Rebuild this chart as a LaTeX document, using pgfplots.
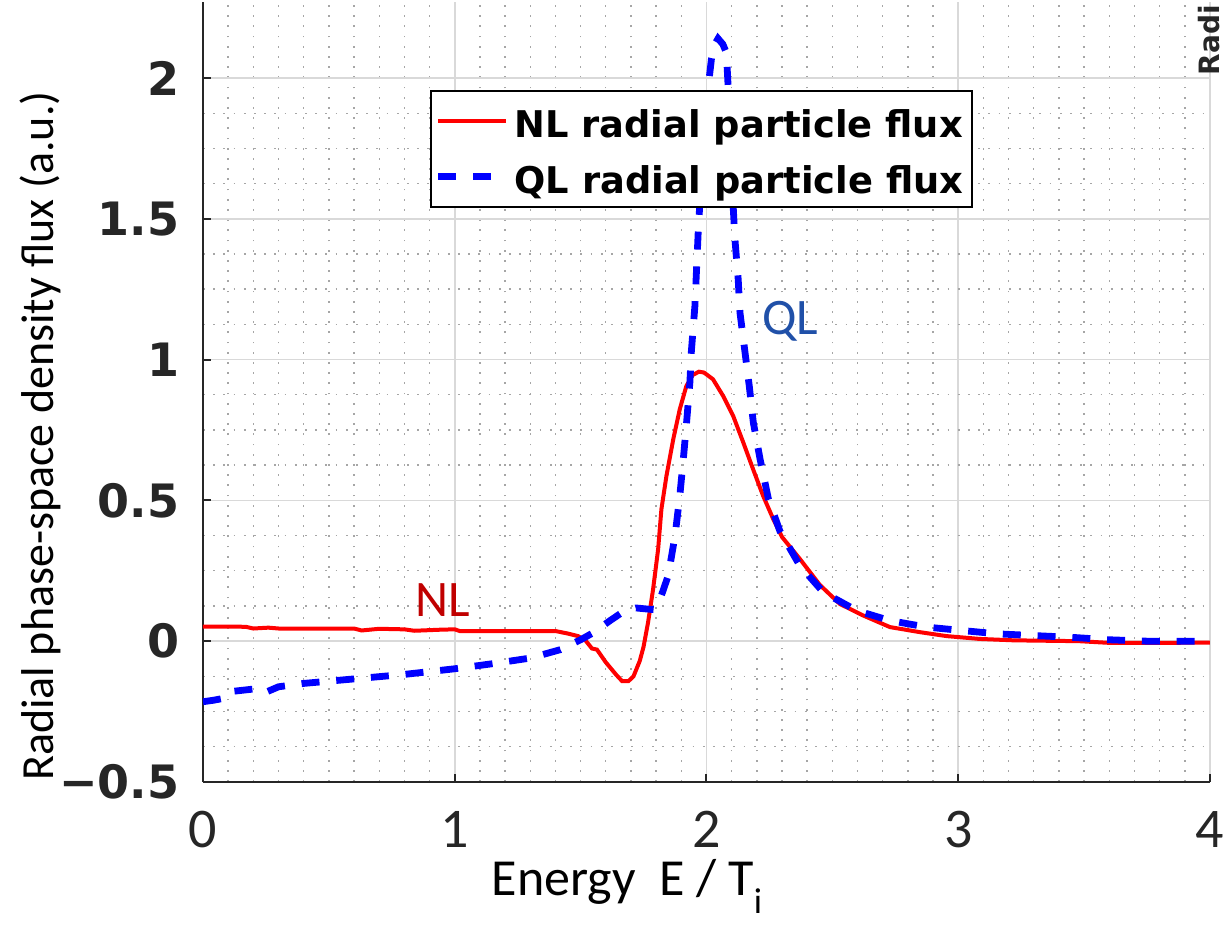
\documentclass[border=0pt]{standalone}
\usepackage{fontspec}
\setmainfont{Carlito}
\newfontfamily\dejavu{DejaVu Sans}
\usepackage{pgfplots}
\pgfplotsset{compat=1.18}
\definecolor{axgray}{HTML}{262626}
\definecolor{nlred}{HTML}{C00000}
\definecolor{qlblue}{HTML}{2050A8}

\pgfplotstableread{
x y
0.00 0.052
0.10 0.052
0.17 0.051
0.20 0.045
0.26 0.048
0.30 0.045
0.60 0.045
0.63 0.038
0.70 0.044
0.80 0.042
0.84 0.037
0.95 0.041
1.00 0.042
1.02 0.036
1.40 0.036
1.45 0.027
1.49 0.018
1.52 0.002
1.545 -0.026
1.565 -0.030
1.60 -0.075
1.64 -0.118
1.665 -0.142
1.69 -0.142
1.71 -0.125
1.735 -0.070
1.75 -0.020
1.768 0.067
1.788 0.185
1.808 0.327
1.821 0.469
1.841 0.587
1.868 0.717
1.894 0.824
1.920 0.906
1.945 0.945
1.970 0.957
1.990 0.954
2.026 0.930
2.066 0.871
2.106 0.800
2.146 0.706
2.185 0.611
2.225 0.516
2.265 0.434
2.300 0.370
2.371 0.292
2.450 0.200
2.530 0.132
2.623 0.091
2.729 0.050
2.848 0.032
2.954 0.018
3.085 0.008
3.220 0.003
3.480 0.000
3.600 -0.006
3.800 -0.006
4.000 -0.005
}\nltable

\pgfplotstableread{
x y
0.00 -0.215
0.04 -0.210
0.10 -0.200
0.12 -0.178
0.20 -0.170
0.24 -0.185
0.30 -0.162
0.40 -0.150
0.60 -0.134
0.80 -0.118
1.00 -0.098
1.15 -0.080
1.30 -0.060
1.42 -0.030
1.50 0.005
1.55 0.030
1.62 0.075
1.67 0.105
1.72 0.118
1.79 0.112
1.82 0.160
1.848 0.233
1.875 0.374
1.894 0.516
1.908 0.646
1.921 0.777
1.934 0.918
1.940 1.030
1.954 1.190
1.960 1.310
1.967 1.450
1.973 1.545
1.990 1.780
2.007 1.970
2.020 2.070
2.033 2.120
2.046 2.140
2.065 2.120
2.079 2.090
2.086 1.970
2.096 1.750
2.106 1.545
2.113 1.427
2.126 1.285
2.133 1.167
2.153 1.026
2.170 0.906
2.186 0.777
2.213 0.646
2.246 0.505
2.292 0.390
2.371 0.268
2.464 0.174
2.596 0.109
2.729 0.073
2.875 0.050
3.013 0.038
3.158 0.026
3.298 0.020
3.444 0.014
3.600 0.005
3.750 0.000
3.900 0.000
4.000 0.000
}\qltable

\begin{document}
\begin{tikzpicture}
\begin{axis}[
  at={(0pt,0pt)}, anchor=south west,
  scale only axis, width=251.75pt, height=195pt,
  xmin=0, xmax=4, ymin=-0.5, ymax=2.27,
  axis x line*=bottom, axis y line*=left,
  axis line style={-, draw=axgray, line width=0.55pt},
  xtick={0,1,2,3,4}, xticklabels={0,1,2,3,4},
  ytick={-0.5,0,0.5,1,1.5,2}, yticklabels={−0.5,0,0.5,1,1.5,2},
  minor x tick num=9, minor y tick num=3,
  tick align=inside, major tick length=2pt, minor tick length=0pt,
  tick style={draw=axgray, line width=0.5pt},
  grid=both,
  major grid style={draw=black!15, line width=0.4pt},
  minor grid style={draw=black!35, line width=0.35pt, dash pattern=on 0.45pt off 2.1pt},
  xticklabel style={font=\fontsize{14}{14}\selectfont, text=axgray, anchor=base, yshift=-16.5pt},
  yticklabel style={font=\dejavu\bfseries\fontsize{11.5}{12}\selectfont, text=axgray, anchor=east, inner sep=0pt, xshift=-5.75pt},
  legend style={at={(0.2254,0.8872)}, anchor=north west, draw=black, line width=0.5pt, fill=white,
    font=\dejavu\bfseries\fontsize{9.2}{11}\selectfont, inner xsep=1pt, inner ysep=0.6pt, row sep=0.3pt,
    nodes={inner xsep=1.2pt, inner ysep=0.6pt, text height=10.5pt, text depth=2pt}},
  legend cell align=left,
  legend image code/.code={\draw[#1] (0pt,0pt) -- (17pt,0pt);},
]
\addplot[red, line width=1pt] table[x=x,y=y] {\nltable};
\addlegendentry{NL radial particle flux}
\addplot[blue, line width=1.7pt, dash pattern=on 4.5pt off 4.2pt] table[x=x,y=y] {\qltable};
\addlegendentry{QL radial particle flux}
\end{axis}
\node[rotate=90, font=\fontsize{11.5}{12}\selectfont] at (-40.75pt,86.5pt) {Radial phase-space density flux (a.u.)};
\node[anchor=base, font=\fontsize{13}{14}\selectfont] at (106pt,-28.5pt) {Energy\ \ E / T\raisebox{-0.7ex}{\fontsize{9}{9}\selectfont i}};
\node[text=nlred, font=\fontsize{12.8}{13}\selectfont] at (60pt,45.5pt) {NL};
\node[text=qlblue, font=\fontsize{12.8}{13}\selectfont] at (146.75pt,115.25pt) {QL};
\node[rotate=90, anchor=base west, inner sep=0pt, font=\dejavu\bfseries\fontsize{7}{8}\selectfont, text=axgray] at (254.25pt,176.5pt) {Radi};
\pgfresetboundingbox
\useasboundingbox (-50.75pt,-36.25pt) rectangle (255.5pt,195.5pt);
\end{tikzpicture}
\end{document}
